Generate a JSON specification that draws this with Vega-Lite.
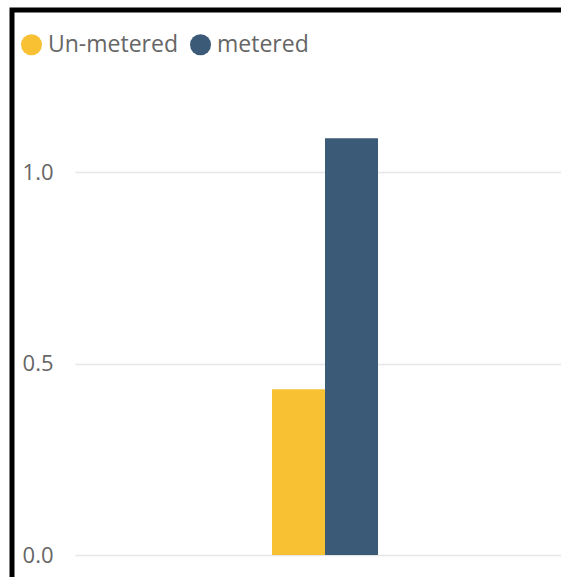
{
  "$schema": "https://vega.github.io/schema/vega-lite/v6.json",
  "width": 549,
  "height": 567,
  "autosize": {"type": "none"},
  "padding": {"left": 12, "top": 10, "right": 0, "bottom": 0},
  "background": "white",
  "data": {
    "values": [
      {"group": "All", "series": "Un-metered", "value": 0.433},
      {"group": "All", "series": "metered", "value": 1.088}
    ]
  },
  "mark": {"type": "bar"},
  "encoding": {
    "x": {
      "field": "group",
      "type": "nominal",
      "axis": null,
      "scale": {"paddingInner": 0, "paddingOuter": 1, "align": 0.6052}
    },
    "xOffset": {
      "field": "series",
      "type": "nominal",
      "sort": ["Un-metered", "metered"],
      "scale": {"paddingInner": 0, "paddingOuter": 0.7264}
    },
    "y": {
      "field": "value",
      "type": "quantitative",
      "scale": {"domain": [-0.05744, 1.42298], "nice": false, "zero": false},
      "axis": {
        "title": null,
        "values": [0, 0.5, 1.0],
        "format": ".1f",
        "offset": -46,
        "ticks": false,
        "tickSize": 0,
        "domain": false,
        "labelPadding": 5,
        "labelFont": "Open Sans",
        "labelFontSize": 22,
        "labelColor": "#666666",
        "grid": true,
        "gridColor": "#e6e6e6",
        "gridWidth": 1.5,
        "gridDash": [0, 63, 3000, 0]
      }
    },
    "y2": {"datum": 0},
    "color": {
      "field": "series",
      "type": "nominal",
      "sort": ["Un-metered", "metered"],
      "scale": {"domain": ["Un-metered", "metered"], "range": ["#F8C133", "#3B5A78"]},
      "legend": {
        "title": null,
        "orient": "none",
        "legendX": 8,
        "legendY": 23,
        "direction": "horizontal",
        "symbolType": "circle",
        "symbolSize": 441,
        "symbolStrokeWidth": 0,
        "symbolOpacity": 1,
        "labelFont": "Open Sans",
        "labelFontSize": 23,
        "labelColor": "#666666",
        "labelOffset": 5,
        "columnPadding": 11,
        "padding": 0
      }
    }
  },
  "config": {
    "view": {
      "stroke": "black",
      "strokeWidth": 5,
      "strokeCap": "square",
      "strokeDash": [549, 1116, 567]
    }
  }
}
